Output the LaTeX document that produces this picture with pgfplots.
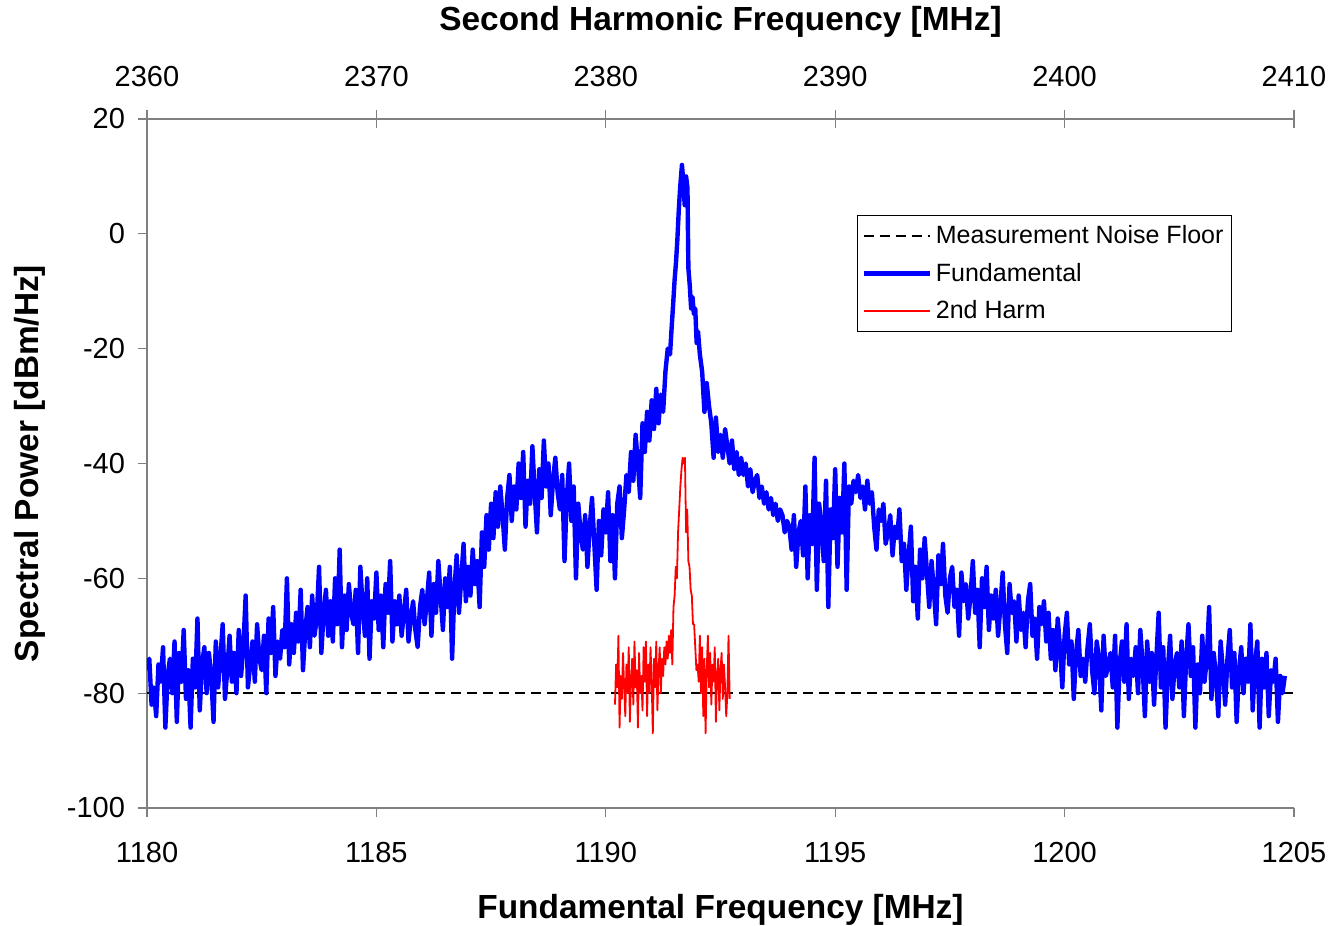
\documentclass[border=0pt]{standalone}
\usepackage{pgfplots}
\pgfplotsset{compat=1.18}
\usepackage{fontspec}
\setmainfont{Liberation Sans}
\begin{document}
\begin{tikzpicture}
\path[use as bounding box] (-73.5pt,-59pt) rectangle (591pt,404pt);
\pgfplotsset{
  common/.style={
    scale only axis, width=573.5pt, height=344.5pt,
    ymin=-100, ymax=20,
    /pgf/number format/assume math mode=true,
    ticklabel style={font=\fontsize{14.5}{17}\selectfont},
    axis line style={draw=black!50, line width=0.6pt},
    major tick style={draw=black!50, line width=0.6pt},
    major tick length=4.5pt,
  }
}
\begin{axis}[common,
  xmin=1180, xmax=1205,
  axis x line*=bottom, axis y line*=left,
  tick align=outside,
  xtick={1180,1185,...,1205},
  ytick={-100,-80,...,20},
  xticklabel style={/pgf/number format/1000 sep={}, yshift=-9pt},
  yticklabel style={xshift=-3pt},
  xlabel={\textbf{Fundamental Frequency [MHz]}},
  xlabel style={font=\fontsize{16.7}{20}\selectfont, at={(axis description cs:0.5,-0.1480)}, anchor=center},
  ylabel={\textbf{Spectral Power [dBm/Hz]}},
  ylabel style={font=\fontsize{16.7}{20}\selectfont, at={(axis description cs:-0.1020,0.5)}, anchor=center, rotate=0},
  legend image code/.code={\draw[#1] (0pt,0pt) -- (33pt,0pt);},
  legend style={at={(0.619,0.8607)}, anchor=north west, draw=black, line width=0.5pt,
    font=\fontsize{12.5}{15}\selectfont, row sep=4.2pt, inner xsep=2pt, inner ysep=3pt,
    cells={anchor=west}},
  legend cell align=left,
]
\addplot[black, line width=1pt, dash pattern=on 5pt off 3pt] coordinates {(1180,-80) (1205,-80)};
\addlegendentry{Measurement Noise Floor}
\addplot[blue, line width=2.2pt, line join=round] table {
1180.00 -76
1180.05 -74
1180.10 -82
1180.15 -79
1180.20 -84
1180.25 -75
1180.30 -78
1180.35 -72
1180.40 -86
1180.45 -77
1180.50 -74
1180.55 -80
1180.60 -71
1180.65 -85
1180.70 -73
1180.75 -78
1180.80 -69
1180.85 -81
1180.90 -76
1180.95 -86
1181.00 -74
1181.05 -79
1181.10 -67
1181.15 -83
1181.20 -75
1181.25 -72
1181.30 -80
1181.35 -73
1181.40 -77
1181.45 -85
1181.50 -71
1181.55 -79
1181.60 -74
1181.65 -68
1181.70 -81
1181.75 -76
1181.80 -70
1181.85 -78
1181.90 -73
1181.95 -80
1182.00 -69
1182.05 -77
1182.10 -72
1182.15 -63
1182.20 -79
1182.25 -75
1182.30 -71
1182.35 -78
1182.40 -68
1182.45 -74
1182.50 -76
1182.55 -70
1182.60 -80
1182.65 -67
1182.70 -73
1182.75 -65
1182.80 -77
1182.85 -71
1182.90 -74
1182.95 -69
1183.00 -72
1183.05 -60
1183.10 -75
1183.15 -68
1183.20 -73
1183.25 -66
1183.30 -71
1183.35 -62
1183.40 -76
1183.45 -69
1183.50 -65
1183.55 -72
1183.60 -63
1183.65 -70
1183.70 -67
1183.75 -58
1183.80 -73
1183.85 -66
1183.90 -62
1183.95 -70
1184.00 -64
1184.05 -71
1184.10 -60
1184.15 -68
1184.20 -55
1184.25 -72
1184.30 -63
1184.35 -69
1184.40 -61
1184.45 -66
1184.50 -68
1184.55 -62
1184.60 -73
1184.65 -58
1184.70 -65
1184.75 -70
1184.80 -60
1184.85 -74
1184.90 -64
1184.95 -67
1185.00 -59
1185.05 -69
1185.10 -63
1185.15 -72
1185.20 -61
1185.25 -66
1185.30 -57
1185.35 -71
1185.40 -64
1185.45 -68
1185.50 -63
1185.55 -70
1185.60 -66
1185.65 -62
1185.70 -71
1185.75 -67
1185.80 -64
1185.85 -69
1185.90 -72
1185.95 -65
1186.00 -62
1186.05 -68
1186.10 -64
1186.15 -59
1186.20 -70
1186.25 -61
1186.30 -66
1186.35 -57
1186.40 -63
1186.45 -69
1186.50 -60
1186.55 -65
1186.60 -58
1186.65 -74
1186.70 -62
1186.75 -56
1186.80 -66
1186.85 -60
1186.90 -54
1186.95 -64
1187.00 -58
1187.05 -63
1187.10 -55
1187.15 -61
1187.20 -57
1187.25 -65
1187.30 -52
1187.35 -58
1187.40 -49
1187.45 -55
1187.50 -47
1187.55 -53
1187.60 -45
1187.65 -51
1187.70 -44
1187.75 -49
1187.80 -55
1187.85 -46
1187.90 -42
1187.95 -50
1188.00 -44
1188.05 -48
1188.10 -40
1188.15 -46
1188.20 -38
1188.25 -51
1188.30 -43
1188.35 -47
1188.40 -37
1188.45 -45
1188.50 -52
1188.55 -41
1188.60 -46
1188.65 -36
1188.70 -44
1188.75 -40
1188.80 -49
1188.85 -43
1188.90 -39
1188.95 -45
1189.00 -48
1189.05 -42
1189.10 -57
1189.15 -46
1189.20 -40
1189.25 -50
1189.30 -44
1189.35 -60
1189.40 -47
1189.45 -52
1189.50 -55
1189.55 -49
1189.60 -58
1189.65 -51
1189.70 -46
1189.75 -54
1189.80 -62
1189.85 -50
1189.90 -56
1189.95 -48
1190.00 -52
1190.05 -45
1190.10 -57
1190.15 -49
1190.20 -60
1190.25 -47
1190.30 -44
1190.35 -53
1190.40 -48
1190.45 -42
1190.50 -45
1190.55 -38
1190.60 -43
1190.65 -35
1190.70 -40
1190.75 -46
1190.80 -33
1190.85 -38
1190.90 -31
1190.95 -36
1191.00 -29
1191.05 -34
1191.10 -27
1191.15 -33
1191.20 -28
1191.25 -31
1191.30 -24
1191.35 -20
1191.40 -21
1191.43 -17
1191.47 -12
1191.50 -8
1191.53 -5
1191.56 -1
1191.59 4
1191.62 8
1191.66 12
1191.69 9
1191.72 5
1191.75 10
1191.78 8
1191.80 -6
1191.83 -9
1191.86 -13
1191.89 -11
1191.92 -14
1191.95 -13
1191.98 -19
1192.01 -17
1192.05 -21
1192.10 -24
1192.15 -31
1192.20 -26
1192.25 -30
1192.30 -33
1192.35 -39
1192.40 -32
1192.45 -38
1192.50 -35
1192.55 -39
1192.60 -34
1192.65 -37
1192.70 -40
1192.75 -36
1192.80 -41
1192.85 -38
1192.90 -42
1192.95 -39
1193.00 -42
1193.05 -40
1193.10 -44
1193.15 -41
1193.20 -45
1193.25 -43
1193.30 -42
1193.35 -46
1193.40 -44
1193.45 -47
1193.50 -45
1193.55 -48
1193.60 -46
1193.65 -49
1193.70 -47
1193.75 -50
1193.80 -48
1193.85 -49
1193.90 -52
1193.95 -50
1194.00 -51
1194.05 -55
1194.10 -49
1194.15 -58
1194.20 -52
1194.25 -50
1194.30 -56
1194.35 -44
1194.40 -60
1194.45 -49
1194.50 -54
1194.55 -39
1194.60 -62
1194.65 -47
1194.70 -51
1194.75 -57
1194.80 -43
1194.85 -65
1194.90 -48
1194.95 -53
1195.00 -41
1195.05 -58
1195.10 -46
1195.15 -52
1195.20 -40
1195.25 -62
1195.30 -44
1195.35 -47
1195.40 -43
1195.45 -45
1195.50 -42
1195.55 -46
1195.60 -44
1195.65 -48
1195.70 -43
1195.75 -47
1195.80 -45
1195.85 -51
1195.90 -55
1195.95 -48
1196.00 -50
1196.05 -47
1196.10 -54
1196.15 -52
1196.20 -49
1196.25 -56
1196.30 -51
1196.35 -53
1196.40 -48
1196.45 -57
1196.50 -54
1196.55 -62
1196.60 -56
1196.65 -51
1196.70 -64
1196.75 -58
1196.80 -67
1196.85 -55
1196.90 -60
1196.95 -53
1197.00 -59
1197.05 -65
1197.10 -57
1197.15 -62
1197.20 -68
1197.25 -56
1197.30 -61
1197.35 -54
1197.40 -63
1197.45 -66
1197.50 -60
1197.55 -58
1197.60 -65
1197.65 -62
1197.70 -70
1197.75 -59
1197.80 -64
1197.85 -61
1197.90 -67
1197.95 -63
1198.00 -57
1198.05 -66
1198.10 -62
1198.15 -72
1198.20 -60
1198.25 -65
1198.30 -58
1198.35 -69
1198.40 -63
1198.45 -67
1198.50 -62
1198.55 -70
1198.60 -65
1198.65 -59
1198.70 -68
1198.75 -73
1198.80 -61
1198.85 -66
1198.90 -64
1198.95 -71
1199.00 -63
1199.05 -69
1199.10 -66
1199.15 -72
1199.20 -64
1199.25 -61
1199.30 -70
1199.35 -67
1199.40 -74
1199.45 -65
1199.50 -68
1199.55 -64
1199.60 -71
1199.65 -66
1199.70 -74
1199.75 -69
1199.80 -76
1199.85 -67
1199.90 -72
1199.95 -79
1200.00 -70
1200.05 -66
1200.10 -75
1200.15 -71
1200.20 -81
1200.25 -73
1200.30 -69
1200.35 -77
1200.40 -74
1200.45 -78
1200.50 -72
1200.55 -68
1200.60 -76
1200.65 -80
1200.70 -71
1200.75 -74
1200.80 -83
1200.85 -70
1200.90 -77
1200.95 -75
1201.00 -73
1201.05 -79
1201.10 -70
1201.15 -86
1201.20 -75
1201.25 -71
1201.30 -78
1201.35 -68
1201.40 -81
1201.45 -74
1201.50 -77
1201.55 -72
1201.60 -80
1201.65 -69
1201.70 -75
1201.75 -84
1201.80 -71
1201.85 -78
1201.90 -73
1201.95 -82
1202.00 -74
1202.05 -66
1202.10 -79
1202.15 -72
1202.20 -86
1202.25 -76
1202.30 -70
1202.35 -81
1202.40 -75
1202.45 -73
1202.50 -79
1202.55 -71
1202.60 -84
1202.65 -74
1202.70 -68
1202.75 -77
1202.80 -72
1202.85 -86
1202.90 -75
1202.95 -80
1203.00 -70
1203.05 -78
1203.10 -74
1203.15 -65
1203.20 -81
1203.25 -73
1203.30 -77
1203.35 -84
1203.40 -71
1203.45 -76
1203.50 -82
1203.55 -74
1203.60 -69
1203.65 -79
1203.70 -73
1203.75 -85
1203.80 -76
1203.85 -72
1203.90 -80
1203.95 -74
1204.00 -78
1204.05 -68
1204.10 -83
1204.15 -75
1204.20 -71
1204.25 -86
1204.30 -74
1204.35 -79
1204.40 -73
1204.45 -84
1204.50 -76
1204.55 -78
1204.60 -74
1204.65 -85
1204.70 -77
1204.75 -80
1204.80 -77
};
\addlegendentry{Fundamental}
\addplot[red, line width=0.9pt, line join=round] table {
1190.200 -82
1190.225 -75
1190.250 -79
1190.275 -70
1190.300 -86
1190.325 -77
1190.350 -81
1190.375 -73
1190.400 -79
1190.425 -84
1190.450 -75
1190.475 -80
1190.500 -72
1190.525 -85
1190.550 -78
1190.575 -74
1190.600 -82
1190.625 -71
1190.650 -79
1190.675 -76
1190.700 -86
1190.725 -73
1190.750 -80
1190.775 -77
1190.800 -83
1190.825 -72
1190.850 -78
1190.875 -71
1190.900 -84
1190.925 -75
1190.950 -80
1190.975 -72
1191.000 -78
1191.025 -87
1191.050 -74
1191.075 -79
1191.100 -71
1191.125 -83
1191.150 -76
1191.175 -72
1191.200 -80
1191.225 -74
1191.250 -77
1191.275 -72
1191.300 -75
1191.325 -71
1191.350 -74
1191.375 -70
1191.400 -73
1191.425 -69
1191.450 -75
1191.475 -65
1191.500 -63
1191.525 -58
1191.550 -60
1191.575 -52
1191.600 -48
1191.625 -44
1191.650 -41
1191.675 -39
1191.700 -40
1191.725 -39
1191.750 -52
1191.775 -48
1191.800 -57
1191.825 -58
1191.850 -62
1191.875 -63
1191.900 -68
1191.925 -68
1191.950 -72
1191.975 -76
1192.000 -75
1192.025 -78
1192.050 -70
1192.075 -80
1192.100 -72
1192.125 -84
1192.150 -74
1192.175 -87
1192.200 -76
1192.225 -70
1192.250 -79
1192.275 -73
1192.300 -82
1192.325 -75
1192.350 -78
1192.375 -72
1192.400 -85
1192.425 -77
1192.450 -74
1192.475 -83
1192.500 -76
1192.525 -73
1192.550 -81
1192.575 -75
1192.600 -79
1192.625 -84
1192.650 -80
1192.675 -70
1192.700 -81
};
\addlegendentry{2nd Harm}
\end{axis}
\begin{axis}[common,
  xmin=2360, xmax=2410,
  axis x line*=top, axis y line=none,
  tick align=center, major tick length=9pt,
  xtick={2360,2370,...,2410},
  xticklabel style={/pgf/number format/1000 sep={}, yshift=8pt},
  xlabel={\textbf{Second Harmonic Frequency [MHz]}},
  xlabel style={font=\fontsize{16.7}{20}\selectfont, at={(axis description cs:0.5,1.1408)}, anchor=center},
]
\addplot[draw=none] coordinates {(2360,0)};
\end{axis}
\end{tikzpicture}
\end{document}
